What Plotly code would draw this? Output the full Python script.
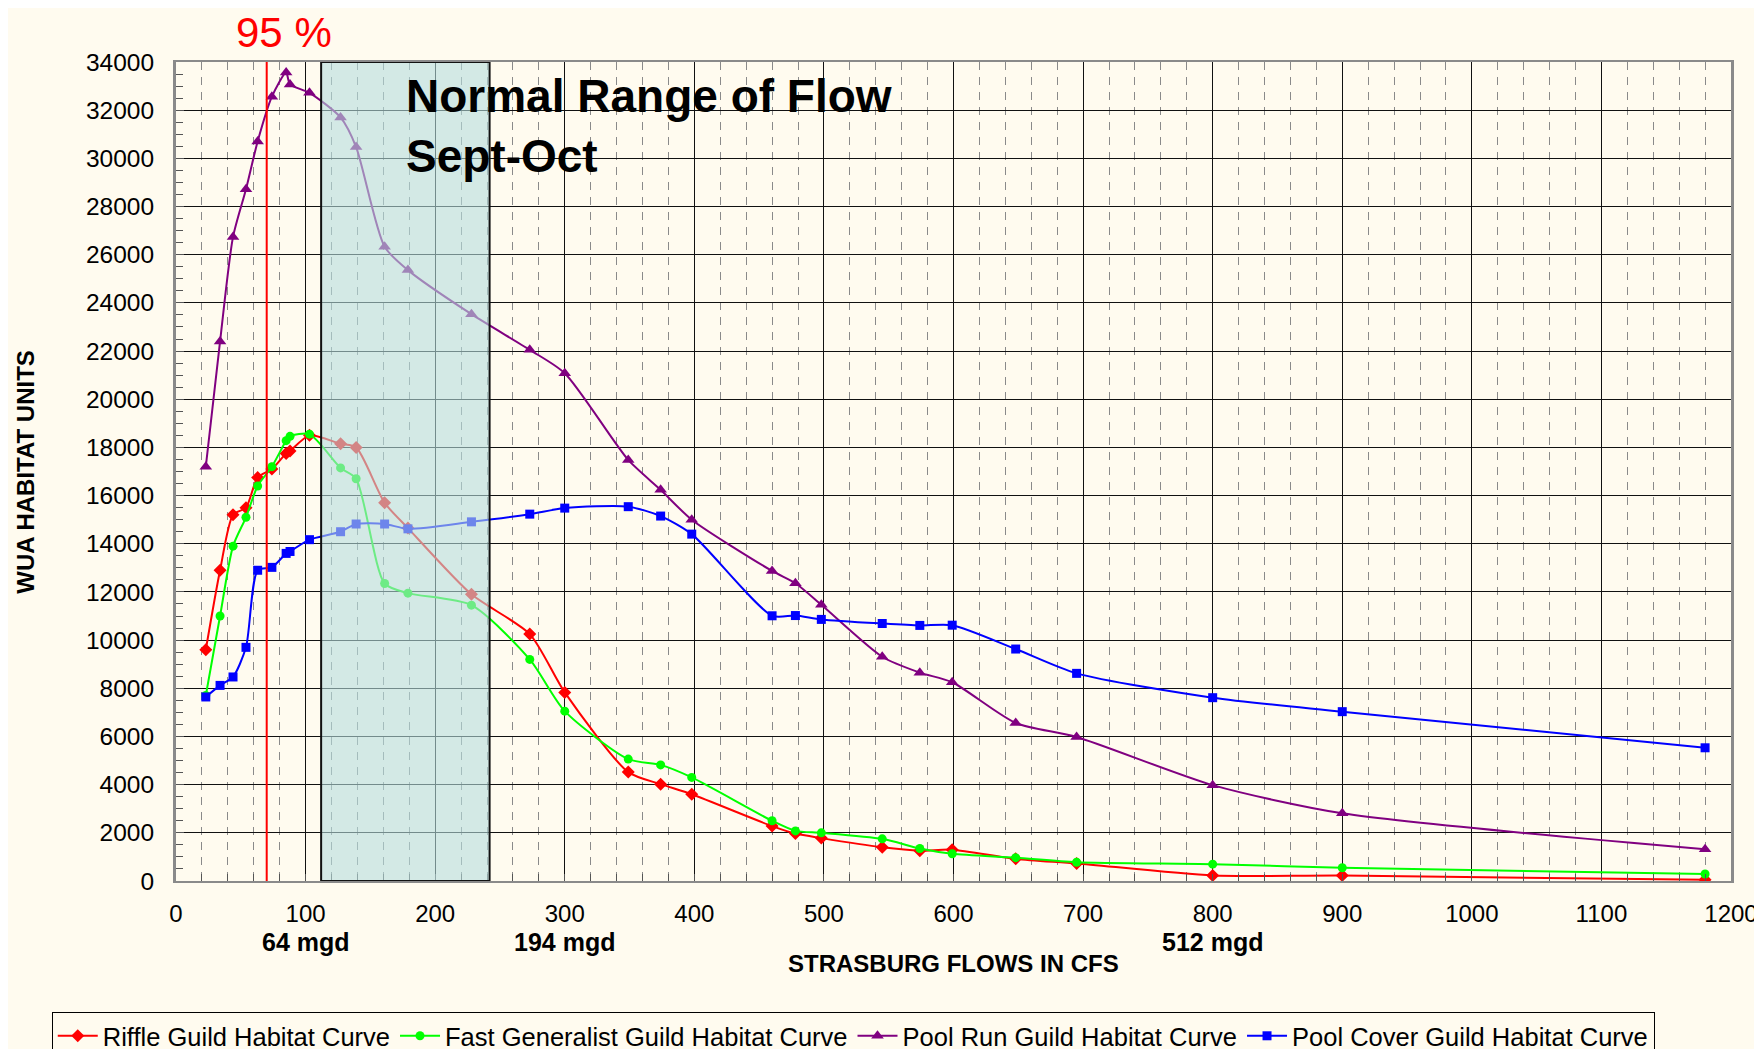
import plotly.graph_objects as go

# flows (cfs) at which each habitat curve was computed
flows = [23, 34, 44, 54, 63, 74, 85, 88, 103, 127, 139, 161, 179, 228, 273,
         300, 349, 374, 398, 460, 478, 498, 545, 574, 599, 648, 695, 800, 900, 1180]

riffle = [9600, 12900, 15200, 15500, 16750, 17100, 17750, 17850, 18500, 18150,
          18000, 15700, 14650, 11900, 10250, 7830, 4520, 4020, 3600, 2280,
          1970, 1780, 1400, 1260, 1300, 920, 730, 230, 230, 50]

fast_generalist = [7700, 11000, 13900, 15100, 16400, 17200, 18280, 18460, 18550, 17150,
                   16700, 12350, 11950, 11450, 9200, 7050, 5060, 4820, 4300, 2500,
                   2080, 2000, 1750, 1350, 1130, 970, 780, 700, 550, 290]

pool_run = [17200, 22400, 26740, 28720, 30700, 32560, 33560, 33070, 32720, 31700,
            30470, 26330, 25360, 23530, 22050, 21080, 17480, 16240, 15000, 12870,
            12360, 11470, 9310, 8650, 8250, 6560, 5980, 3980, 2810, 1320]

pool_cover = [7640, 8120, 8470, 9700, 12900, 13020, 13600, 13680, 14170, 14500,
              14820, 14820, 14620, 14910, 15230, 15480, 15540, 15150, 14400, 11010,
              11020, 10860, 10690, 10610, 10620, 9630, 8620, 7610, 7030, 5530]

series = [
    ("Riffle Guild Habitat Curve", riffle, "#ff0000", "diamond", 10),
    ("Fast Generalist Guild Habitat Curve", fast_generalist, "#00ff00", "circle", 9),
    ("Pool Run Guild Habitat Curve", pool_run, "#800080", "triangle-up", 11),
    ("Pool Cover Guild Habitat Curve", pool_cover, "#0000ff", "square", 9),
]

# annotations
pct95_flow = 70
normal_range = (112, 242)
mgd_flows = [100, 300, 800]
mgd_labels = ["64 mgd", "194 mgd", "512 mgd"]

cream = "#fffbef"
font = "Liberation Sans, Arial, sans-serif"

fig = go.Figure()
for name, vals, color, symbol, size in series:
    fig.add_trace(go.Scatter(
        x=flows, y=vals, name=name, mode="lines+markers",
        line=dict(color=color, width=2, shape="spline", smoothing=0.7),
        marker=dict(symbol=symbol, size=size, color=color),
    ))

# normal range box (drawn over curves so they look faded, like the original)
fig.add_shape(type="rect", x0=normal_range[0], x1=normal_range[1], y0=0, y1=34000,
              xref="x", yref="y", layer="above",
              fillcolor="rgba(182,222,222,0.6)", line=dict(color="#111111", width=2))

# 95% flow line
fig.add_shape(type="line", x0=pct95_flow, x1=pct95_flow, y0=0, y1=34000,
              xref="x", yref="y", layer="above", line=dict(color="#ff0000", width=2))

fig.add_annotation(x=pct95_flow, y=34000, xref="x", yref="y", text="95 %",
                   showarrow=False, yanchor="middle", yshift=30, xshift=17,
                   font=dict(family=font, size=42, color="#ff0000"))

fig.add_annotation(x=normal_range[1], y=1, xref="x", yref="paper",
                   text="<b>Normal Range of Flow<br>Sept-Oct</b>", showarrow=False,
                   xanchor="left", yanchor="top", align="left", xshift=-86, yshift=-6,
                   font=dict(family=font, size=46, color="#000000"))

for f, lab in zip(mgd_flows, mgd_labels):
    fig.add_annotation(x=f, y=-0.074, xref="x", yref="paper", text=f"<b>{lab}</b>",
                       showarrow=False, xanchor="center", yanchor="middle",
                       font=dict(family=font, size=25, color="#000000"))

fig.add_annotation(x=0.5, y=-0.101, xref="paper", yref="paper",
                   text="<b>STRASBURG FLOWS IN CFS</b>", showarrow=False,
                   xanchor="center", yanchor="middle",
                   font=dict(family=font, size=24, color="#000000"))

fig.add_annotation(x=-0.097, y=0.5, xref="paper", yref="paper",
                   text="<b>WUA HABITAT UNITS</b>", showarrow=False, textangle=-90,
                   xanchor="center", yanchor="middle",
                   font=dict(family=font, size=24, color="#000000"))

fig.update_xaxes(
    range=[0, 1200], dtick=100, tick0=0,
    showgrid=True, gridcolor="#111111", gridwidth=1,
    showline=True, mirror=True, linecolor="#8a8a8a", linewidth=2,
    ticks="inside", ticklen=7, tickcolor="#555555", ticklabelstandoff=10,
    tickfont=dict(family=font, size=24, color="#000000"),
    minor=dict(dtick=20, ticks="inside", ticklen=7, tickcolor="#555555",
               showgrid=True, gridcolor="#8a8a8a", griddash="8px,7px", gridwidth=1),
    zeroline=False,
)
fig.update_yaxes(
    range=[0, 34000], dtick=2000, tick0=0, tickformat="d",
    showgrid=True, gridcolor="#111111", gridwidth=1,
    showline=True, mirror=True, linecolor="#8a8a8a", linewidth=3,
    ticks="inside", ticklen=8, tickcolor="#555555", ticklabelstandoff=14,
    tickfont=dict(family=font, size=24.5, color="#000000"),
    minor=dict(dtick=500, ticks="inside", ticklen=7, tickcolor="#555555", showgrid=False),
    zeroline=False,
)

# the page puts the figure 8px in from the window corner, so margins allow for that
fig.update_layout(
    width=1762, height=1049,
    margin=dict(l=168, r=39, t=54, b=176, autoexpand=False),
    paper_bgcolor=cream, plot_bgcolor=cream,
    font=dict(family=font, color="#000000"),
    showlegend=True,
    legend=dict(orientation="h", x=-0.0799, y=-0.1596, xanchor="left", yanchor="top",
                bgcolor=cream, bordercolor="#000000", borderwidth=1,
                font=dict(family=font, size=25.5, color="#000000"),
                itemwidth=40, tracegroupgap=0),
)

fig.write_html("out.html")
